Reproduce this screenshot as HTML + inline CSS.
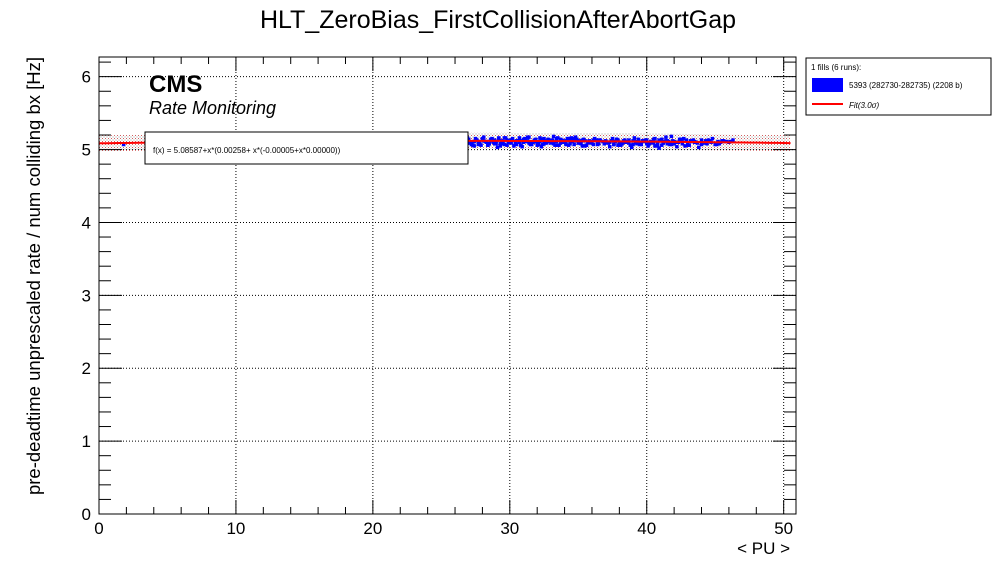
<!DOCTYPE html>
<html><head><meta charset="utf-8"><style>
body{margin:0;background:#fff;font-family:"Liberation Sans",sans-serif}
svg text{font-family:"Liberation Sans",sans-serif}
</style></head><body>
<svg id="chart" width="996" height="572" xmlns="http://www.w3.org/2000/svg">
<defs>
<pattern id="dots" width="3" height="3" patternUnits="userSpaceOnUse"><rect x="0" y="0" width="1" height="1" fill="#d06060"/><rect x="1.5" y="1.5" width="1" height="1" fill="#999"/></pattern>
</defs>
<text x="498" y="28" font-size="25" text-anchor="middle">HLT_ZeroBias_FirstCollisionAfterAbortGap</text>
<g id="grid"></g>
<g id="band"></g>
<g id="points"></g>
<g id="fit"></g>
<g id="axes"></g>
<text x="149" y="92" font-size="24" font-weight="bold">CMS</text>
<text x="149" y="114" font-size="18" font-style="italic">Rate Monitoring</text>
<g>
<rect x="145" y="132" width="323" height="32" fill="#fff" stroke="#000"/>
<text x="153" y="153" font-size="8">f(x) = 5.08587+x*(0.00258+ x*(-0.00005+x*0.00000))</text>
</g>
<text x="790" y="554" font-size="17" text-anchor="end">&lt; PU &gt;</text>
<text transform="translate(40,276) rotate(-90)" font-size="18.5" text-anchor="middle">pre-deadtime unprescaled rate / num colliding bx [Hz]</text>
<g>
<rect x="806" y="58" width="185" height="57" fill="#fff" stroke="#000"/>
<text x="811" y="70" font-size="8">1 fills (6 runs):</text>
<rect x="812" y="78" width="31" height="14" fill="#0000ff"/>
<text x="849" y="88" font-size="8">5393 (282730-282735) (2208 b)</text>
<line x1="812" y1="104" x2="843" y2="104" stroke="#f00" stroke-width="2"/>
<text x="849" y="108" font-size="8" font-style="italic">Fit(3.0σ)</text>
</g>
</svg>
<script>
const xTicks=[0,10,20,30,40,50];
const yTicks=[0,1,2,3,4,5,6];
const fitCoef=[5.08587,0.00258,-0.00005,0.0];
const fitSigma=0.11;
const puVals=[1.8,26.6,26.8,27.0,27.2,27.4,27.6,27.8,28.0,28.2,28.4,28.6,28.8,29.0,29.2,29.4,29.6,29.8,30.0,30.2,30.4,30.6,30.8,31.0,31.2,31.4,31.6,31.8,32.0,32.2,32.4,32.6,32.8,33.0,33.2,33.4,33.6,33.8,34.0,34.2,34.4,34.6,34.8,35.0,35.2,35.4,35.6,35.8,36.0,36.2,36.4,36.6,37.0,37.2,37.4,37.6,37.8,38.0,38.2,38.4,38.6,38.8,39.0,39.2,39.4,39.6,39.8,40.0,40.2,40.4,40.6,40.8,41.0,41.2,41.4,41.6,41.8,42.0,42.4,42.8,43.2,43.6,44.0,44.4,44.8,45.2,45.6,46.0,46.3,
26.7,27.1,27.5,27.9,28.3,28.7,29.1,29.5,29.9,30.3,30.7,31.1,31.5,31.9,32.3,32.7,33.1,33.5,33.9,34.3,34.7,35.1,35.5,35.9,36.3,36.9,37.3,37.7,38.1,38.5,38.9,39.3,39.7,40.1,40.5,40.9,41.3,41.7,42.2,42.6,43.0,43.4,43.8,44.2,44.6,45.0,45.4,
26.9,27.3,27.7,28.1,28.5,28.9,29.3,29.7,30.1,30.5,30.9,31.3,31.7,32.1,32.5,32.9,33.3,33.7,34.1,34.5,34.9,35.3,35.7,36.1,36.5,37.1,37.5,37.9,38.3,38.7,39.1,39.5,39.9,40.3,40.7,41.1,41.5,41.9,42.3,42.7,43.1,43.5,44.1,44.5,45.1,45.5,46.1,
26.6,26.9,27.2,27.5,27.8,28.1,28.4,28.7,29.0,29.3,29.6,29.9,30.2,30.5,30.8,31.1,31.4,31.7,32.0,32.3,32.6,32.9,33.2,33.5,33.8,34.1,34.4,34.7,35.0,35.3,35.6,35.9,36.2,36.5,37.0,37.3,37.6,37.9,38.2,38.5,38.8,39.1,39.4,39.7,40.0,40.3,40.6,40.9,41.2,41.5,41.8,42.1,42.5,43.0,43.3,43.7,44.3,44.7,45.3,45.8,
26.8,27.1,27.4,27.7,28.0,28.3,28.6,28.9,29.2,29.5,29.8,30.1,30.4,30.7,31.0,31.3,31.6,31.9,32.2,32.5,32.8,33.1,33.4,33.7,34.0,34.3,34.6,34.9,35.2,35.5,35.8,36.1,36.4,36.8,37.2,37.5,37.8,38.1,38.4,38.7,39.0,39.3,39.6,39.9,40.2,40.5,40.8,41.1,41.4,41.7,42.0,42.6,42.9,43.5,44.0,44.6,45.2,45.7];
const rateVals=[5.07,5.12,5.08,5.14,5.10,5.05,5.13,5.09,5.15,5.11,5.06,5.14,5.10,5.08,5.16,5.12,5.07,5.13,5.10,5.15,5.09,5.12,5.06,5.14,5.11,5.17,5.08,5.13,5.10,5.16,5.07,5.12,5.14,5.09,5.18,5.11,5.06,5.13,5.10,5.15,5.08,5.12,5.17,5.09,5.11,5.14,5.06,5.12,5.10,5.15,5.08,5.13,5.11,5.09,5.12,5.07,5.14,5.10,5.08,5.13,5.11,5.06,5.12,5.09,5.14,5.07,5.11,5.13,5.08,5.10,5.15,5.06,5.12,5.09,5.17,5.11,5.18,5.08,5.14,5.05,5.12,5.10,5.13,5.08,5.15,5.11,5.12,5.10,5.13,
5.04,5.09,5.13,5.06,5.11,5.15,5.03,5.08,5.12,5.05,5.10,5.14,5.07,5.11,5.04,5.09,5.13,5.06,5.10,5.15,5.07,5.12,5.05,5.09,5.13,5.08,5.04,5.11,5.06,5.10,5.03,5.08,5.12,5.05,5.09,5.02,5.11,5.07,5.04,5.10,5.06,5.13,5.03,5.09,5.11,5.07,5.10,
5.16,5.06,5.11,5.17,5.08,5.13,5.05,5.16,5.09,5.12,5.04,5.17,5.10,5.07,5.15,5.11,5.06,5.14,5.09,5.16,5.12,5.05,5.10,5.07,5.13,5.10,5.15,5.06,5.12,5.09,5.16,5.07,5.13,5.11,5.05,5.14,5.08,5.12,5.10,5.15,5.06,5.11,5.09,5.13,5.07,5.12,5.11,
5.10,5.13,5.07,5.15,5.09,5.12,5.06,5.14,5.11,5.08,5.16,5.10,5.13,5.07,5.12,5.15,5.09,5.11,5.06,5.14,5.10,5.13,5.08,5.16,5.11,5.07,5.12,5.15,5.09,5.13,5.06,5.11,5.14,5.08,5.12,5.10,5.07,5.13,5.09,5.11,5.06,5.14,5.10,5.12,5.08,5.11,5.05,5.13,5.09,5.12,5.07,5.10,5.14,5.08,5.11,5.09,5.12,5.10,5.08,5.11,
5.13,5.09,5.11,5.07,5.14,5.10,5.12,5.08,5.15,5.11,5.06,5.13,5.09,5.16,5.10,5.12,5.07,5.14,5.11,5.08,5.13,5.10,5.15,5.09,5.12,5.06,5.11,5.14,5.08,5.12,5.10,5.13,5.07,5.11,5.09,5.12,5.14,5.08,5.10,5.13,5.07,5.11,5.09,5.12,5.08,5.14,5.10,5.06,5.12,5.09,5.11,5.08,5.13,5.10,5.07,5.12,5.09,5.11];
const X0=99,X1=796,Y0=514,Y1=57,XMAX=50.9,YMAX=6.27;
const sx=v=>X0+v/XMAX*(X1-X0);
const sy=v=>Y0-v/YMAX*(Y0-Y1);
const NS='http://www.w3.org/2000/svg';
function mk(t,a,p){const e=document.createElementNS(NS,t);for(const k in a)e.setAttribute(k,a[k]);p.appendChild(e);return e;}
const grid=document.getElementById('grid'),axes=document.getElementById('axes');
xTicks.forEach(t=>{if(t>0){const l=mk('line',{x1:sx(t),x2:sx(t),y1:Y1,y2:Y0,stroke:'#000','stroke-dasharray':'1,2','stroke-width':1},grid);

}
const tx=mk('text',{x:sx(t),y:Y0+20,'font-size':17,'text-anchor':'middle'},axes);tx.textContent=t;

});
yTicks.forEach(t=>{if(t>0){const l=mk('line',{x1:X0,x2:X1,y1:sy(t),y2:sy(t),stroke:'#000','stroke-dasharray':'1,2','stroke-width':1},grid);

}
const tx=mk('text',{x:X0-8,y:sy(t)+6,'font-size':17,'text-anchor':'end'},axes);tx.textContent=t;

});
mk('rect',{x:X0,y:Y1,width:X1-X0,height:Y0-Y1,fill:'none',stroke:'#000'},axes);
for(let v=0;v<=50;v+=2){const L=v%10===0?14:7;mk('line',{x1:sx(v),x2:sx(v),y1:Y0,y2:Y0-L,stroke:'#000'},axes);mk('line',{x1:sx(v),x2:sx(v),y1:Y1,y2:Y1+L,stroke:'#000'},axes);}
for(let i=0;i<=31;i++){const v=i*0.2;const L=i%5===0?23:12;mk('line',{x1:X0,x2:X0+L,y1:sy(v),y2:sy(v),stroke:'#000'},axes);mk('line',{x1:X1,x2:X1-L,y1:sy(v),y2:sy(v),stroke:'#000'},axes);}
const f=x=>fitCoef[0]+x*(fitCoef[1]+x*(fitCoef[2]+x*fitCoef[3]));
let up='',dn='',ln='';
for(let x=0;x<=XMAX;x+=0.5){up+=`${sx(x)},${sy(f(x)+fitSigma)} `;dn=`${sx(x)},${sy(f(x)-fitSigma)} `+dn;ln+=`${sx(x)},${sy(f(x))} `;}
const bd=mk('polygon',{points:up+dn,fill:'url(#dots)'},document.getElementById('band'));


const pts=document.getElementById('points');
puVals.forEach((p,i)=>{if(rateVals[i]===undefined)return;const r=mk('rect',{x:sx(p)-1.75,y:sy(rateVals[i])-1.75,width:3.5,height:3.5,fill:'#0000ff'},pts);

});
const fl=mk('polyline',{points:ln,fill:'none',stroke:'#f00','stroke-width':2},document.getElementById('fit'));


</script>
</body></html>
